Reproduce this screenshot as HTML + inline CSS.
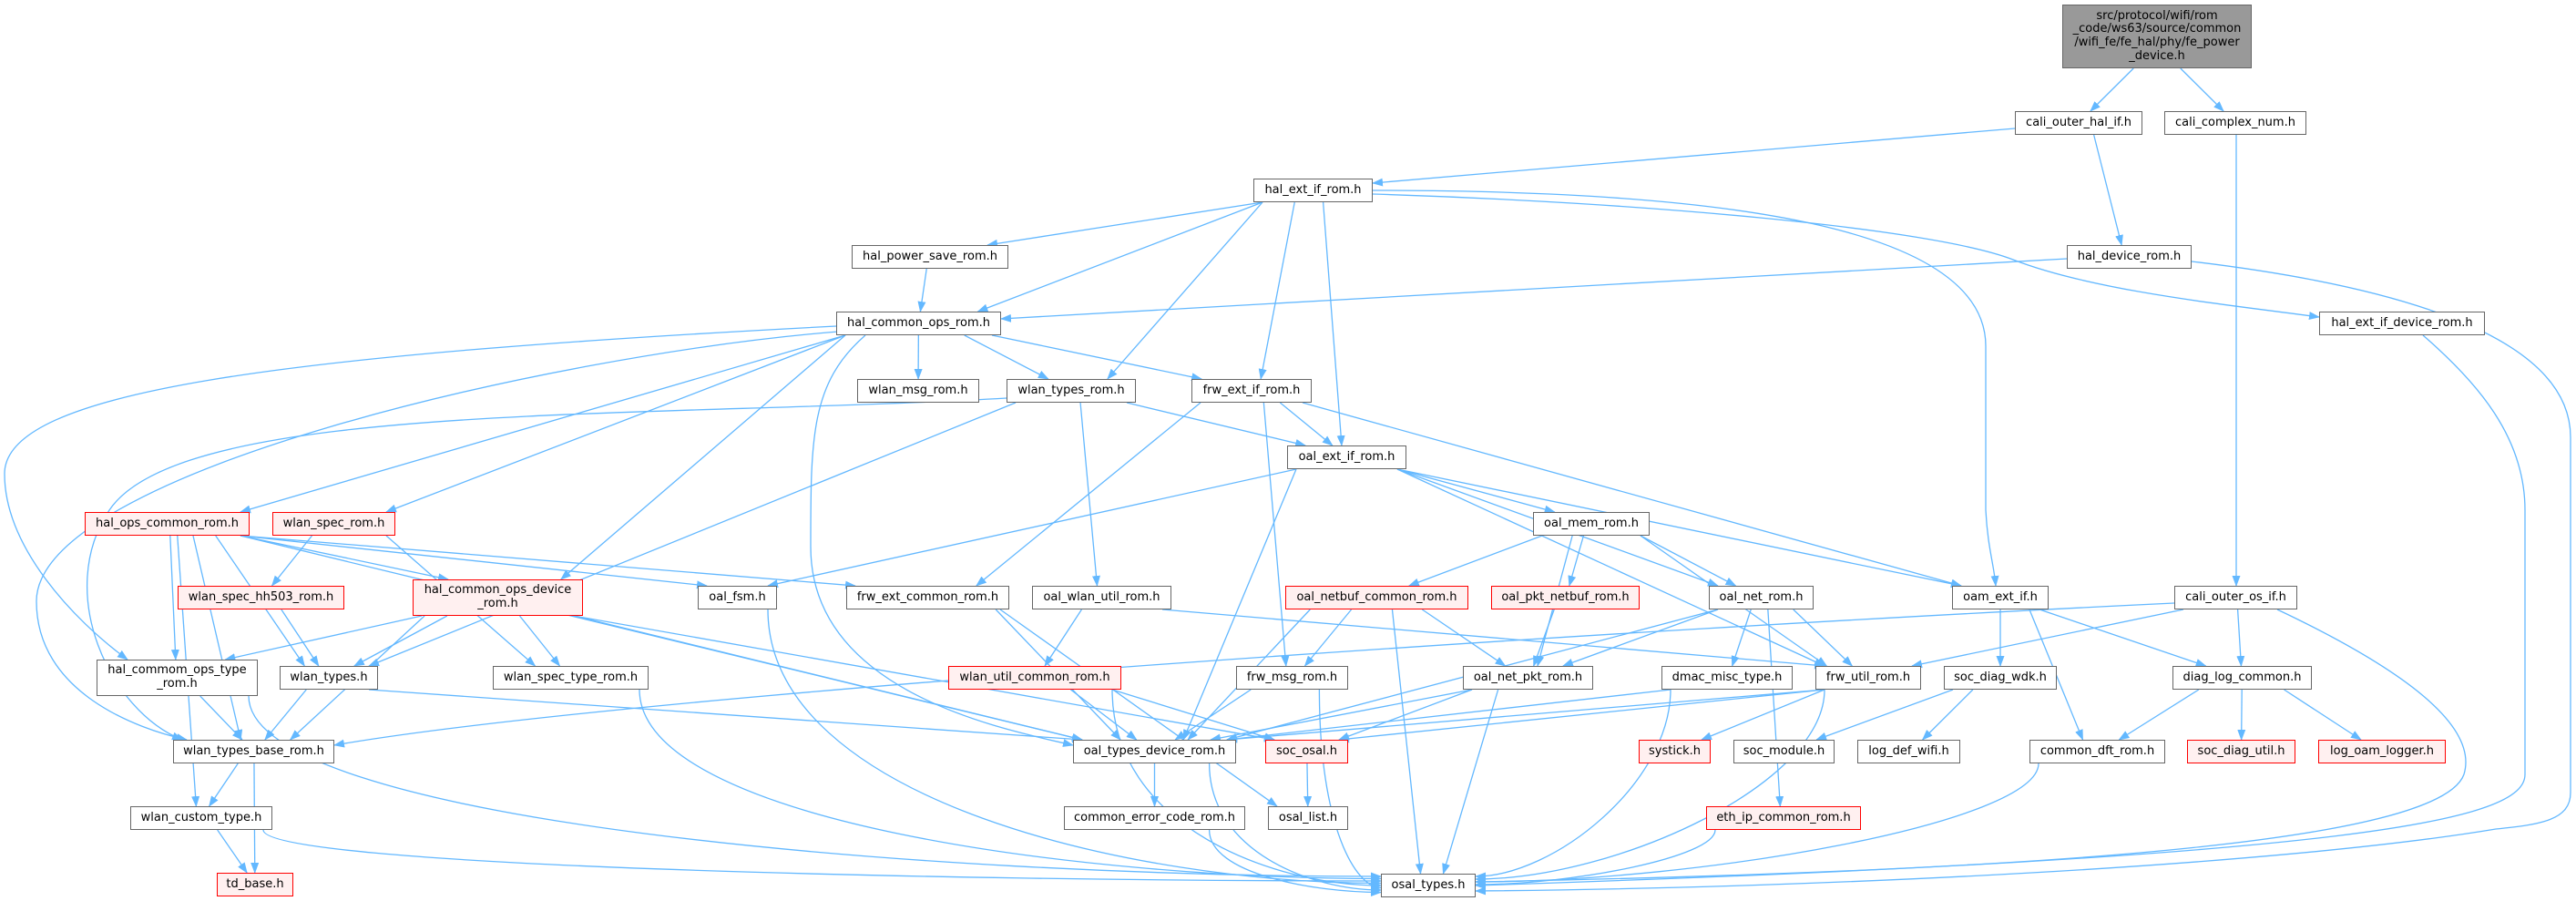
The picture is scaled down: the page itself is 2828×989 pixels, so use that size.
<!DOCTYPE html>
<html><head><meta charset="utf-8">
<style>
html,body{margin:0;padding:0;background:#fff;}
#wrap{position:relative;width:2828px;height:989px;overflow:hidden;background:#fff;}
svg{position:absolute;left:0;top:0;}
.n{position:absolute;box-sizing:border-box;border:1.5px solid #666;background:#fff;font-family:"DejaVu Sans","Liberation Sans",sans-serif;font-size:13px;color:#000;text-align:center;display:flex;align-items:center;justify-content:center;line-height:14.7px;white-space:nowrap;}
.r{border-color:#ff0000;background:#fff0f0;}
.g{background:#999;border-color:#666;}
</style></head><body>
<div id="wrap">
<svg id="edges" width="2828" height="989" viewBox="0 0 2828 989">
<defs><marker id="ah" markerWidth="12" markerHeight="9" refX="11" refY="4.5" orient="auto" markerUnits="userSpaceOnUse"><path d="M0,0 L12,4.5 L0,9 z" fill="#63b8ff"/></marker></defs>
<g id="eg" fill="none" stroke="#63b8ff" stroke-width="1.3"></g>
</svg>
<div class="n g" style="left:2264px;top:5px;width:208px;height:70px;">src/protocol/wifi/rom<br>_code/ws63/source/common<br>/wifi_fe/fe_hal/phy/fe_power<br>_device.h</div>
<div class="n" style="left:2212px;top:122px;width:140px;height:26px;">cali_outer_hal_if.h</div>
<div class="n" style="left:2376px;top:122px;width:156px;height:26px;">cali_complex_num.h</div>
<div class="n" style="left:1376px;top:196px;width:131px;height:26px;">hal_ext_if_rom.h</div>
<div class="n" style="left:935px;top:269px;width:172px;height:26px;">hal_power_save_rom.h</div>
<div class="n" style="left:2269px;top:269px;width:137px;height:26px;">hal_device_rom.h</div>
<div class="n" style="left:918px;top:342px;width:181px;height:26px;">hal_common_ops_rom.h</div>
<div class="n" style="left:2546px;top:342px;width:182px;height:26px;">hal_ext_if_device_rom.h</div>
<div class="n" style="left:941px;top:416px;width:134px;height:26px;">wlan_msg_rom.h</div>
<div class="n" style="left:1105px;top:416px;width:142px;height:26px;">wlan_types_rom.h</div>
<div class="n" style="left:1308px;top:416px;width:132px;height:26px;">frw_ext_if_rom.h</div>
<div class="n" style="left:1413px;top:489px;width:131px;height:26px;">oal_ext_if_rom.h</div>
<div class="n r" style="left:93px;top:562px;width:181px;height:26px;">hal_ops_common_rom.h</div>
<div class="n r" style="left:299px;top:562px;width:135px;height:26px;">wlan_spec_rom.h</div>
<div class="n" style="left:1683px;top:562px;width:128px;height:26px;">oal_mem_rom.h</div>
<div class="n r" style="left:195px;top:643px;width:183px;height:26px;">wlan_spec_hh503_rom.h</div>
<div class="n r" style="left:453px;top:636px;width:187px;height:40px;">hal_common_ops_device<br>_rom.h</div>
<div class="n" style="left:766px;top:643px;width:87px;height:26px;">oal_fsm.h</div>
<div class="n" style="left:929px;top:643px;width:179px;height:26px;">frw_ext_common_rom.h</div>
<div class="n" style="left:1133px;top:643px;width:153px;height:26px;">oal_wlan_util_rom.h</div>
<div class="n r" style="left:1411px;top:643px;width:201px;height:26px;">oal_netbuf_common_rom.h</div>
<div class="n r" style="left:1637px;top:643px;width:163px;height:26px;">oal_pkt_netbuf_rom.h</div>
<div class="n" style="left:1876px;top:643px;width:115px;height:26px;">oal_net_rom.h</div>
<div class="n" style="left:2143px;top:643px;width:106px;height:26px;">oam_ext_if.h</div>
<div class="n" style="left:2387px;top:643px;width:135px;height:26px;">cali_outer_os_if.h</div>
<div class="n" style="left:106px;top:724px;width:177px;height:40px;">hal_commom_ops_type<br>_rom.h</div>
<div class="n" style="left:307px;top:731px;width:108px;height:26px;">wlan_types.h</div>
<div class="n" style="left:541px;top:731px;width:171px;height:26px;">wlan_spec_type_rom.h</div>
<div class="n r" style="left:1041px;top:731px;width:190px;height:26px;">wlan_util_common_rom.h</div>
<div class="n" style="left:1357px;top:731px;width:123px;height:26px;">frw_msg_rom.h</div>
<div class="n" style="left:1606px;top:731px;width:143px;height:26px;">oal_net_pkt_rom.h</div>
<div class="n" style="left:1824px;top:731px;width:144px;height:26px;">dmac_misc_type.h</div>
<div class="n" style="left:1993px;top:731px;width:116px;height:26px;">frw_util_rom.h</div>
<div class="n" style="left:2134px;top:731px;width:124px;height:26px;">soc_diag_wdk.h</div>
<div class="n" style="left:2385px;top:731px;width:153px;height:26px;">diag_log_common.h</div>
<div class="n" style="left:190px;top:812px;width:177px;height:26px;">wlan_types_base_rom.h</div>
<div class="n" style="left:1178px;top:812px;width:179px;height:26px;">oal_types_device_rom.h</div>
<div class="n r" style="left:1389px;top:812px;width:91px;height:26px;">soc_osal.h</div>
<div class="n r" style="left:1799px;top:812px;width:79px;height:26px;">systick.h</div>
<div class="n" style="left:1903px;top:812px;width:111px;height:26px;">soc_module.h</div>
<div class="n" style="left:2039px;top:812px;width:113px;height:26px;">log_def_wifi.h</div>
<div class="n" style="left:2228px;top:812px;width:149px;height:26px;">common_dft_rom.h</div>
<div class="n r" style="left:2401px;top:812px;width:119px;height:26px;">soc_diag_util.h</div>
<div class="n r" style="left:2545px;top:812px;width:140px;height:26px;">log_oam_logger.h</div>
<div class="n" style="left:143px;top:885px;width:156px;height:26px;">wlan_custom_type.h</div>
<div class="n" style="left:1168px;top:885px;width:199px;height:26px;">common_error_code_rom.h</div>
<div class="n" style="left:1392px;top:885px;width:88px;height:26px;">osal_list.h</div>
<div class="n r" style="left:1873px;top:885px;width:170px;height:26px;">eth_ip_common_rom.h</div>
<div class="n r" style="left:238px;top:958px;width:84px;height:26px;">td_base.h</div>
<div class="n" style="left:1516px;top:959px;width:104px;height:26px;">osal_types.h</div>
</div>
<script>
var N={root:[2264,5,2472,75],cohi:[2212,122,2352,148],ccn:[2376,122,2532,148],heir:[1376,196,1507,222],hpsr:[935,269,1107,295],hdr:[2269,269,2406,295],hcor:[918,342,1099,368],heidr:[2546,342,2728,368],wmr:[941,416,1075,442],wtr:[1105,416,1247,442],feir:[1308,416,1440,442],oeir:[1413,489,1544,515],hocr:[93,562,274,588],wsr:[299,562,434,588],omr:[1683,562,1811,588],wshr:[195,643,378,669],hcodr:[453,636,640,676],ofsm:[766,643,853,669],fecr:[929,643,1108,669],owur:[1133,643,1286,669],oncr:[1411,643,1612,669],opnr:[1637,643,1800,669],onr:[1876,643,1991,669],oam:[2143,643,2249,669],coos:[2387,643,2522,669],hcotr:[106,724,283,764],wt:[307,731,415,757],wstr:[541,731,712,757],wucr:[1041,731,1231,757],fmr:[1357,731,1480,757],onpr:[1606,731,1749,757],dmt:[1824,731,1968,757],fur:[1993,731,2109,757],sdw:[2134,731,2258,757],dlc:[2385,731,2538,757],wtbr:[190,812,367,838],otdr:[1178,812,1357,838],sosal:[1389,812,1480,838],systick:[1799,812,1878,838],smod:[1903,812,2014,838],ldw:[2039,812,2152,838],cdr:[2228,812,2377,838],sdu:[2401,812,2520,838],lol:[2545,812,2685,838],wct:[143,885,299,911],cecr:[1168,885,1367,911],olist:[1392,885,1480,911],eicr:[1873,885,2043,911],tdb:[238,958,322,984],ot:[1516,959,1620,985]};
var g=document.getElementById('eg'),ns='http://www.w3.org/2000/svg';
function P(d){var p=document.createElementNS(ns,'path');p.setAttribute('d',d);p.setAttribute('marker-end','url(#ah)');g.appendChild(p);}
function cl(v,a,b){return Math.max(a,Math.min(b,v));}
var otL=962,otR=962;
function E(a,b){var A=N[a],B=N[b];var ac=(A[0]+A[2])/2,bc=(B[0]+B[2])/2;
 if(b=='ot'&&(ac<1420||ac>1720)){var sx=cl(ac+(bc-ac)*0.2,A[0]+10,A[2]-10),sy=A[3];
  if(ac<1420){var ey=otL;otL=Math.min(otL+2.5,981);P('M'+sx+','+sy+' C'+sx+','+(sy+(ey-sy)*0.7)+' '+(1516-(1516-sx)*0.4)+','+ey+' 1516,'+ey);}
  else{var ey=otR;otR=Math.min(otR+3,981);P('M'+sx+','+sy+' C'+sx+','+(sy+(ey-sy)*0.5)+' '+(1620+(sx-1620)*0.4)+','+ey+' 1620,'+ey);}
  return;}
 var sx=cl(ac+(bc-ac)*0.3,A[0]+10,A[2]-10),sy=A[3];
 var ex=cl(bc+(ac-bc)*0.15,B[0]+10,B[2]-10),ey=B[1];
 P('M'+sx+','+sy+' L'+ex+','+ey);}
var L=[['root','cohi'],['root','ccn'],['cohi','hdr'],['heir','hpsr'],['heir','hcor'],['heir','wtr'],['heir','feir'],['heir','oeir'],['hpsr','hcor'],['hcor','wmr'],['hcor','wtr'],['hcor','feir'],['hcor','hocr'],['hcor','wsr'],['hcor','hcodr'],['wtr','wt'],['wtr','oeir'],['wtr','owur'],['feir','oeir'],['feir','fecr'],['feir','fmr'],['feir','oam'],['oeir','ofsm'],['oeir','omr'],['oeir','onr'],['oeir','fur'],['oeir','otdr'],['oeir','oam'],['omr','oncr'],['omr','opnr'],['omr','onpr'],['omr','onr'],['omr','fur'],['hocr','hcodr'],['hocr','hcotr'],['hocr','wt'],['hocr','wtbr'],['hocr','wct'],['hocr','ofsm'],['hocr','fecr'],['hocr','otdr'],['wsr','wshr'],['wsr','wstr'],['wshr','wt'],['hcodr','hcotr'],['hcodr','wt'],['hcodr','wstr'],['hcodr','wtbr'],['hcodr','otdr'],['hcodr','sosal'],['hcotr','wtbr'],['hcotr','ot'],['wt','wtbr'],['wt','otdr'],['wstr','ot'],['wtbr','wct'],['wtbr','tdb'],['wct','tdb'],['wct','ot'],['ofsm','ot'],['fecr','otdr'],['fecr','olist'],['owur','wucr'],['owur','fur'],['wucr','otdr'],['wucr','sosal'],['wucr','ot'],['oncr','fmr'],['oncr','onpr'],['oncr','otdr'],['oncr','ot'],['opnr','onpr'],['onr','onpr'],['onr','dmt'],['onr','fur'],['onr','eicr'],['onr','otdr'],['fmr','otdr'],['fmr','ot'],['onpr','otdr'],['onpr','sosal'],['onpr','ot'],['dmt','otdr'],['dmt','ot'],['otdr','cecr'],['otdr','ot'],['sosal','olist'],['cecr','ot'],['fur','otdr'],['fur','sosal'],['fur','systick'],['fur','ot'],['oam','sdw'],['oam','dlc'],['oam','cdr'],['coos','fur'],['coos','dlc'],['sdw','smod'],['sdw','ldw'],['dlc','cdr'],['dlc','sdu'],['dlc','lol'],['cdr','ot'],['eicr','ot']];
L.forEach(function(e){E(e[0],e[1]);});
P('M2212,141 L1507,201');
P('M2455,148 L2455,643');
P('M1507,209 C1900,209 2180,250 2180,380 L2180,560 C2182,600 2189,620 2191,643');
P('M1507,213 C1800,222 2120,250 2210,285 C2300,320 2450,335 2546,348');
P('M2269,284 L1099,350');
P('M2406,287 C2600,310 2822,360 2822,480 L2822,870 C2822,900 2790,905 2740,910 C2500,950 2000,975 1620,978');
P('M2660,368 C2720,420 2772,480 2772,560 L2772,850 C2772,900 2600,940 1620,972');
P('M2500,669 C2650,740 2720,800 2705,850 C2680,920 2300,955 1620,968');
P('M2387,662 C1800,690 700,760 367,818');
P('M950,368 C890,420 890,480 890,600 C890,760 1100,800 1178,818');
P('M918,358 C300,390 5,430 5,520 C5,600 80,680 140,724');
P('M920,364 C600,390 40,520 40,660 C40,760 150,800 205,812');
P('M1105,437 C700,460 200,440 120,560 C60,650 120,780 200,812');
</script>
</body></html>
